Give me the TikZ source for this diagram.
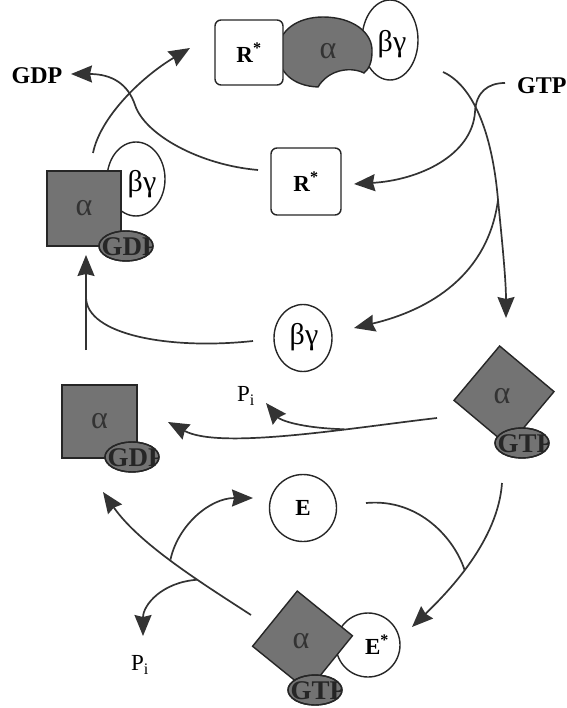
\documentclass[tikz,border=0pt]{standalone}
\usepackage{fontspec}
\setmainfont{Liberation Serif}
\usetikzlibrary{arrows.meta,shapes.geometric}
\tikzset{
  ln/.style={draw=black!80, line width=1.7pt},
  arr/.style={ln, -{Stealth[length=21pt,width=17pt,inset=2pt]}},
  dkbox/.style={rectangle, fill=black!55, draw=black!85, line width=1.4pt, inner sep=0pt,
    text=black!80, font=\fontsize{32}{34}\selectfont},
  wbox/.style={rectangle, draw=black!85, line width=1.4pt, fill=white, rounded corners=6pt,
    inner sep=0pt, font=\fontsize{23}{26}\selectfont\bfseries},
  oval/.style={ellipse, draw=black!85, line width=1.4pt, fill=white, inner sep=0pt},
  bglab/.style={inner sep=0pt, font=\fontsize{30}{32}\selectfont},
  nuc/.style={ellipse, fill=black!55, draw=black!85, line width=1.4pt, inner sep=0pt,
    minimum width=54pt, minimum height=30pt},
  nuctxt/.style={inner sep=0pt, font=\fontsize{27}{28}\selectfont\bfseries, text=black!85},
  alab/.style={inner sep=0pt, font=\fontsize{32}{34}\selectfont, text=black!80},
  blab/.style={inner sep=0pt, font=\fontsize{24}{26}\selectfont\bfseries},
  plab/.style={inner sep=0pt, font=\fontsize{23}{26}\selectfont},
}
\newcommand\nucball[3]{%
  \node[nuc] (#1) at #2 {};
  \begin{scope}
    \clip #2 ellipse [x radius=26.3pt, y radius=14.3pt];
    \node[nuctxt, anchor=west] (#1t) at ([xshift=3pt,yshift=-1pt]#1.west) {#3};
  \end{scope}
  \draw[draw=black!85, line width=1.4pt] #2 ellipse [x radius=27pt, y radius=15pt];
}
\begin{document}
\begin{tikzpicture}[x=1pt,y=-1pt]
\useasboundingbox (0,0) rectangle (566,708);

% ---- top complex R*-alpha-betagamma
\node[oval, minimum width=56, minimum height=80] (bgT) at (390,40) {};
\node[bglab] (bgTt) at (392,44) {βγ};
\fill[black!55, draw=black!85, line width=1.4pt]
  (318,87) .. controls (293,86) and (278,72) .. (278,52)
  .. controls (278,30) and (298,17) .. (323,17)
  .. controls (352,17) and (373,32) .. (372,52)
  .. controls (372,62) and (369,69) .. (364,73)
  .. controls (350,66) and (328,70) .. (318,87) -- cycle;
\node[alab] (aT) at (328,51) {α};
\node[wbox, minimum width=68, minimum height=65] (rT) at (249,52.5) {R\textsuperscript{*}};

% ---- upper left complex alpha-GDP-betagamma
\node[oval, minimum width=58, minimum height=74] (bgL) at (136,179) {};
\node[bglab] (bgLt) at (142,184) {βγ};
\node[dkbox, minimum width=74, minimum height=75] (sqL) at (84,208.5) {α};
\nucball{gdpL}{(126,246)}{GDP}

% ---- middle R* and betagamma
\node[wbox, minimum width=70, minimum height=67] (rM) at (306,181.5) {R\textsuperscript{*}};
\node[oval, minimum width=58, minimum height=67] (bgM) at (303,338) {};
\node[bglab] (bgMt) at (304,337) {βγ};

% ---- right alpha-GTP
\node[dkbox, rotate=50, minimum size=71] (dmR) at (504,396) {};
\node[alab] (aR) at (502,396) {α};
\nucball{gtpR}{(522,443)}{GTP}

% ---- lower left alpha-GDP
\node[dkbox, minimum width=75, minimum height=73] (sqB) at (99.5,421.5) {α};
\nucball{gdpB}{(132,457)}{GDP}

% ---- effector
\node[circle, draw=black!85, line width=1.4pt, fill=white, minimum size=67, inner sep=0pt,
  font=\fontsize{23}{26}\selectfont\bfseries] (E) at (303,508) {E};

% ---- bottom complex alpha-GTP-E*
\node[circle, draw=black!85, line width=1.4pt, fill=white, minimum size=64, inner sep=0pt] (Es) at (368,645) {};
\node[inner sep=0pt, font=\fontsize{23}{26}\selectfont\bfseries] (Est) at (377,645) {E\textsuperscript{*}};
\node[dkbox, rotate=51, minimum size=71] (dmB) at (302.5,641) {};
\node[alab] (aB) at (301,641) {α};
\nucball{gtpB}{(315,690)}{GTP}

% ---- free labels
\node[blab] (GDP) at (37,76) {GDP};
\node[blab, anchor=west] (GTP) at (517,86) {GTP};
\node[plab] (Pi1) at (246,396) {P\textsubscript{i}};
\node[plab] (Pi2) at (140,665) {P\textsubscript{i}};

% ---- connector end points
\coordinate (c1) at (258,170);
\coordinate (c1e) at (71,74);
\coordinate (c2) at (93,153);
\coordinate (c2e) at (190,48);
\coordinate (c3) at (505,83);
\coordinate (c3e) at (354,184);
\coordinate (c4) at (443,72);
\coordinate (br) at (498,200);
\coordinate (c4e) at (506,318);
\coordinate (c5e) at (354,328);
\coordinate (c6) at (253,341);
\coordinate (j6) at (86,297);
\coordinate (c7) at (86,350);
\coordinate (c7e) at (86,255);
\coordinate (c8) at (437,418);
\coordinate (c8e) at (168,422);
\coordinate (c9e) at (266,403);
\coordinate (c10) at (502,483);
\coordinate (c10e) at (412,627);
\coordinate (c11) at (366,503);
\coordinate (c12) at (251,615);
\coordinate (c12e) at (103,492);
\coordinate (c13e) at (253,498);
\coordinate (c14e) at (143,636);

% ---- connectors
\draw[arr] (c1) .. controls (200,165) and (145,135) .. (135,105)
  .. controls (128,84) and (112,74) .. (c1e);
\draw[arr] (c2) .. controls (100,118) and (140,78) .. (c2e);
\draw[arr] (c3) .. controls (488,83) and (476,92) .. (475,112)
  .. controls (472,155) and (420,180) .. (c3e);
\draw[ln] (c4) .. controls (472,85) and (492,130) .. (br);
\draw[arr] (br) .. controls (502,240) and (506,280) .. (c4e);
\draw[arr] (br) .. controls (488,275) and (430,310) .. (c5e);
\draw[ln] (c6) .. controls (170,350) and (86,335) .. (j6);
\draw[arr] (c7) -- (c7e);
\draw[arr] (c8) .. controls (350,428) and (220,450) .. coordinate[pos=0.32] (b8) (c8e);
\draw[arr] (b8) .. controls (300,428) and (280,420) .. (c9e);
\draw[arr] (c10) .. controls (498,540) and (450,590) .. coordinate[pos=0.55] (b10) (c10e);
\draw[ln] (c11) .. controls (420,498) and (455,540) .. (b10);
\draw[arr] (c12) .. controls (205,585) and (140,545) .. coordinate[pos=0.35] (b12a) coordinate[pos=0.52] (b12b) (c12e);
\draw[arr] (b12b) .. controls (178,525) and (210,498) .. (c13e);
\draw[arr] (b12a) .. controls (162,582) and (143,605) .. (c14e);
\end{tikzpicture}
\end{document}
